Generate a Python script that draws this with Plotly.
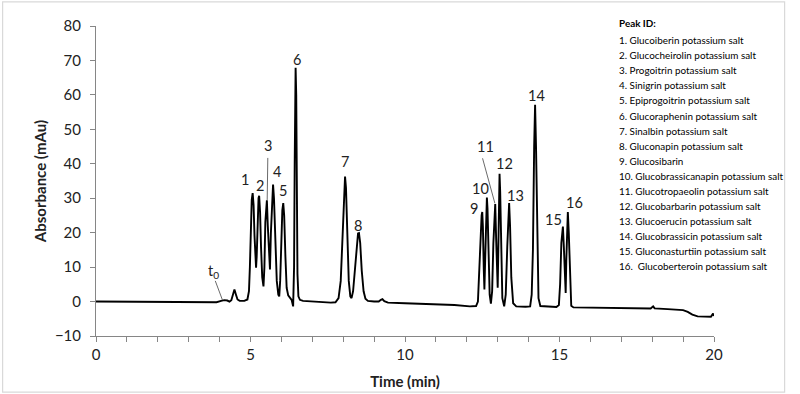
import plotly.graph_objects as go

# ---------------- data ----------------
time_min = [
    0.0, 1.0, 2.0, 3.0, 3.9, 4.05, 4.15, 4.25, 4.32, 4.38, 4.43, 4.48, 4.53, 4.58, 4.65, 4.8, 4.9,
    4.95, 4.98, 5.01, 5.04, 5.07, 5.10, 5.13, 5.16, 5.18, 5.20, 5.23, 5.26, 5.28, 5.31, 5.34, 5.38,
    5.42, 5.45, 5.48, 5.51, 5.53, 5.56, 5.60, 5.63, 5.66, 5.70, 5.73, 5.76, 5.80, 5.85, 5.90, 5.93,
    5.96, 6.00, 6.03, 6.06, 6.09, 6.13, 6.17, 6.22, 6.28, 6.33, 6.38, 6.41, 6.43, 6.45, 6.46, 6.48,
    6.50, 6.52, 6.55, 6.6, 6.7, 7.0, 7.3, 7.6, 7.75, 7.85, 7.92, 7.97, 8.01, 8.04, 8.06, 8.09, 8.13,
    8.18, 8.23, 8.27, 8.32, 8.38, 8.44, 8.48, 8.51, 8.55, 8.60, 8.66, 8.72, 8.8, 9.0, 9.15, 9.22,
    9.27, 9.33, 9.45, 10.0, 11.0, 11.6, 12.1, 12.3, 12.36, 12.40, 12.44, 12.48, 12.50, 12.52, 12.55,
    12.57, 12.60, 12.63, 12.65, 12.67, 12.70, 12.74, 12.78, 12.82, 12.86, 12.90, 12.92, 12.95, 12.98,
    13.0, 13.02, 13.04, 13.06, 13.08, 13.11, 13.15, 13.21, 13.26, 13.31, 13.35, 13.37, 13.40, 13.44,
    13.5, 13.6, 13.9, 14.05, 14.1, 14.14, 14.18, 14.21, 14.24, 14.28, 14.32, 14.38, 14.6, 14.9,
    14.98, 15.02, 15.06, 15.09, 15.11, 15.14, 15.18, 15.20, 15.22, 15.25, 15.27, 15.30, 15.34, 15.38,
    15.45, 16.0, 17.0, 17.95, 18.03, 18.08, 18.5, 19.0, 19.15, 19.3, 19.47, 19.7, 19.9, 19.97, 20.0,
]
absorbance_mau = [
    0.0, -0.05, -0.1, -0.15, -0.2, 0.2, 0.4, 0.3, 0.0, 0.4, 2.0, 3.5, 2.0, 0.6, 0.2, 0.2, 0.6,
    3.0, 10.0, 22.0, 29.5, 31.5, 28.0, 19.0, 11.5, 9.8, 13.0, 24.0, 30.0, 30.7, 26.0, 16.0, 7.0,
    4.4, 10.0, 23.0, 29.0, 29.4, 22.0, 11.5, 9.3, 20.0, 31.5, 34.0, 30.0, 18.0, 6.0, 2.0, 1.5,
    6.0, 18.0, 26.5, 28.6, 25.0, 13.0, 4.0, 1.8, 1.0, 0.5, -1.4, 10.0, 40.0, 63.0, 67.9, 60.0,
    30.0, 8.0, 1.5, 0.5, 0.2, 0.0, -0.1, -0.3, -0.2, 1.0, 6.0, 18.0, 30.0, 35.0, 36.3, 33.0, 20.0,
    6.0, 1.5, 1.0, 3.0, 10.0, 17.5, 19.8, 19.9, 17.0, 9.0, 3.0, 0.8, 0.2, 0.0, 0.0, 0.5,
    0.7, 0.1, -0.3, -0.5, -0.8, -1.0, -1.4, -1.3, 0.0, 8.0, 19.0, 25.0, 26.0, 22.0, 9.0,
    3.5, 14.0, 27.0, 30.2, 27.0, 14.0, 2.0, -0.6, 3.0, 17.0, 27.0, 28.3, 18.0, 6.0,
    4.0, 15.0, 31.0, 37.1, 32.0, 14.0, 1.0, -1.4, 2.0, 16.0, 27.0, 28.6, 22.0, 7.0,
    -0.5, -1.4, -1.5, -1.4, 2.0, 15.0, 45.0, 57.1, 45.0, 15.0, 1.0, -1.3, -1.5, -1.6,
    -1.0, 5.0, 17.0, 21.5, 21.8, 16.0, 4.0, 2.5, 12.0, 24.0, 26.0, 20.0, 5.0, -1.2,
    -1.7, -1.8, -1.9, -2.0, -1.4, -2.0, -2.2, -2.5, -3.0, -3.8, -4.3, -4.4, -4.4, -3.5, -4.2,
]

peak_labels = ["1", "2", "3", "4", "5", "6", "7", "8", "9", "10", "11", "12", "13", "14", "15", "16"]
label_time = [4.81, 5.32, 5.57, 5.86, 6.06, 6.52, 8.06, 8.47, 12.24, 12.43, 12.59, 13.21, 13.59, 14.26, 14.82, 15.48]
label_abs = [35.3, 33.8, 45.4, 37.7, 32.2, 70.3, 40.6, 22.2, 27.0, 32.9, 44.9, 40.1, 30.9, 59.9, 23.9, 28.7]

peak_names = [
    "Glucoiberin potassium salt",
    "Glucocheirolin potassium salt",
    "Progoitrin potassium salt",
    "Sinigrin potassium salt",
    "Epiprogoitrin potassium salt",
    "Glucoraphenin potassium salt",
    "Sinalbin potassium salt",
    "Gluconapin potassium salt",
    "Glucosibarin",
    "Glucobrassicanapin potassium salt",
    "Glucotropaeolin potassium salt",
    "Glucobarbarin potassium salt",
    "Glucoerucin potassium salt",
    "Glucobrassicin potassium salt",
    "Gluconasturtiin potassium salt",
    " Glucoberteroin potassium salt",
]

# ---------------- figure ----------------
W, H = 800, 394
L, R, T, B = 95.5, 714.3, 25.7, 336.2
FONT = "Lato"


def px(xp):
    return (xp - L) / (R - L)


def py(yp):
    return (B - yp) / (B - T)


fig = go.Figure()
fig.add_trace(go.Scatter(
    x=time_min, y=absorbance_mau, mode="lines",
    line=dict(color="black", width=1.9), hoverinfo="skip", showlegend=False,
))

annotations = []
for lab, tx, ty in zip(peak_labels, label_time, label_abs):
    annotations.append(dict(x=tx, y=ty, xref="x", yref="y", text=lab, showarrow=False,
                            font=dict(family=FONT, size=14.5, color="#222")))
annotations.append(dict(x=3.80, y=8.6, xref="x", yref="y", text="t<sub>0</sub>", showarrow=False,
                        font=dict(family=FONT, size=14.5, color="#222")))

# legend text block
annotations.append(dict(x=px(617), y=py(23), xref="paper", yref="paper", text="<b>Peak ID:</b>",
                        showarrow=False, xanchor="left", yanchor="middle",
                        font=dict(family=FONT, size=9.9, color="black")))
for i, name in enumerate(peak_names):
    annotations.append(dict(x=px(617), y=py(40 + 15.07 * i), xref="paper", yref="paper",
                            text=f"{i + 1}. {name}", showarrow=False, xanchor="left", yanchor="middle",
                            font=dict(family=FONT, size=9.9, color="black")))

shapes = [
    dict(type="line", xref="x", yref="y", x0=5.56, y0=41.7, x1=5.54, y1=29.5, line=dict(color="#444", width=0.8)),
    dict(type="line", xref="x", yref="y", x0=12.51, y0=41.6, x1=12.91, y1=28.5, line=dict(color="#444", width=0.8)),
    dict(type="line", xref="x", yref="y", x0=3.86, y0=6.0, x1=4.09, y1=0.5, line=dict(color="#444", width=0.8)),
    dict(type="rect", xref="paper", yref="paper", x0=px(2), x1=px(785), y0=py(392.5), y1=py(1.5),
         line=dict(color="#d9d9d9", width=1.2), layer="below"),
]

fig.update_layout(
    width=W, height=H,
    margin=dict(l=L, r=W - R, t=T, b=H - B, pad=0, autoexpand=False),
    paper_bgcolor="white", plot_bgcolor="white",
    font=dict(family=FONT, color="#222"),
    annotations=annotations, shapes=shapes,
    xaxis=dict(
        range=[0, 20], tick0=0, dtick=5,
        minor=dict(dtick=1, ticks="outside", ticklen=5, tickcolor="#868686", tickwidth=1, showgrid=False),
        showgrid=False, zeroline=False, showline=True, linecolor="#868686", linewidth=1,
        ticks="outside", ticklen=5, tickcolor="#868686", tickwidth=1, automargin=False,
        tickfont=dict(family=FONT, size=15, color="#222"),
        title=dict(text="<b>Time (min)</b>", font=dict(family=FONT, size=15, color="#222"), standoff=14),
    ),
    yaxis=dict(
        range=[-10, 80], tick0=0, dtick=10,
        showgrid=False, zeroline=False, showline=True, linecolor="#868686", linewidth=1,
        ticks="outside", ticklen=5, tickcolor="#868686", tickwidth=1, automargin=False,
        tickfont=dict(family=FONT, size=15, color="#222"),
        ticklabelstandoff=6,
        title=dict(text="<b>Absorbance (mAu)</b>", font=dict(family=FONT, size=15, color="#222"), standoff=4),
    ),
)

fig.write_html(
    "out.html",
    config={"displayModeBar": False, "staticPlot": True},
    post_script="document.body.style.margin='0';document.body.style.padding='0';",
)
